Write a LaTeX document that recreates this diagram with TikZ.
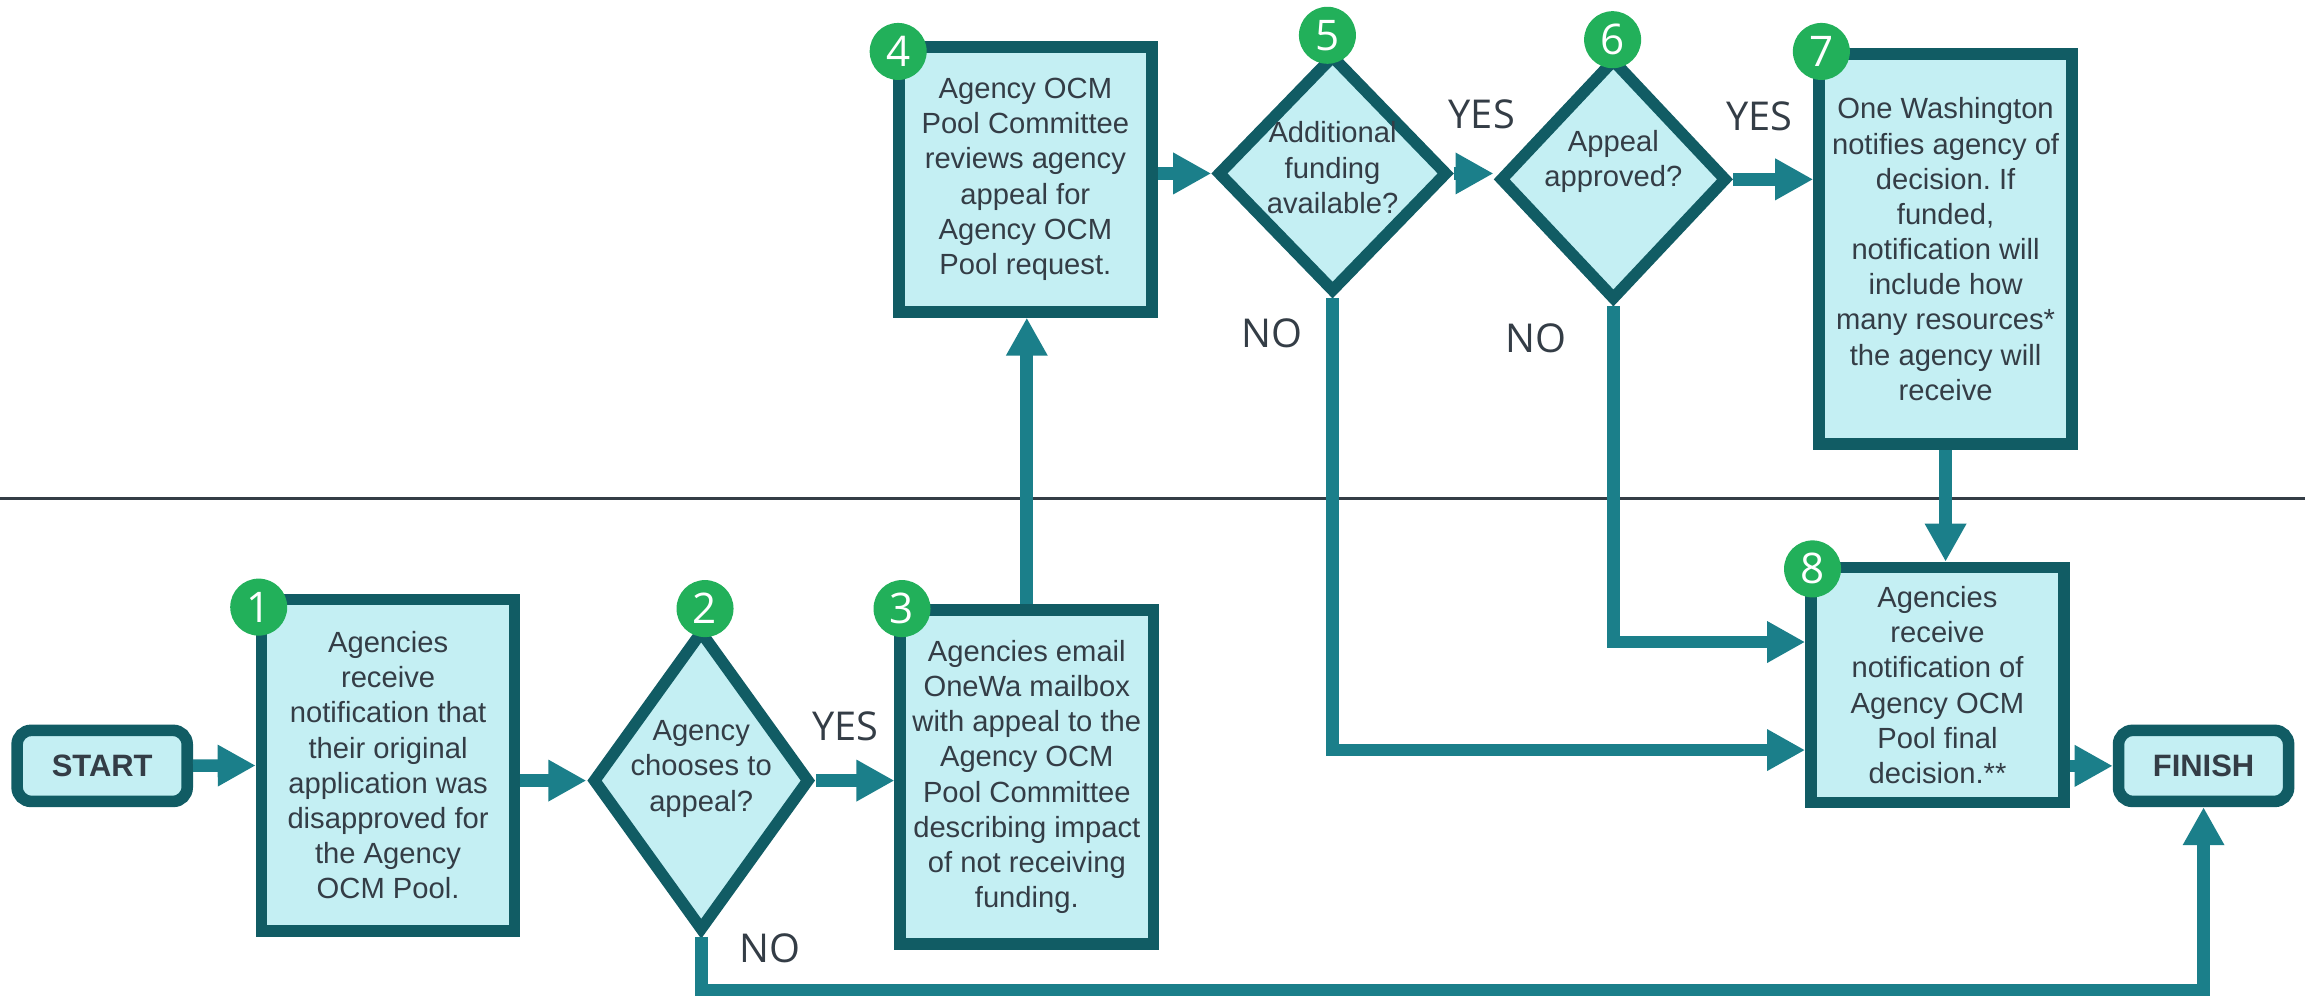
\documentclass[tikz,border=0pt]{standalone}
\usepackage{fontspec}
\setmainfont{Liberation Sans}
\newfontfamily\labelfont{Open Sans}
\usepackage{tikz}
\usetikzlibrary{arrows.meta,shapes.geometric}
\definecolor{boxfill}{HTML}{C4EFF3}
\definecolor{boxline}{HTML}{115C64}
\definecolor{flowcol}{HTML}{1B7F8A}
\definecolor{numgreen}{HTML}{22B05A}
\definecolor{txt}{HTML}{343D46}

\begin{document}
\frenchspacing
\begin{tikzpicture}[x=0.0147cm, y=-0.0147cm,
	every node/.style={align=center, text=txt, font=\fontsize{8.3}{10}\selectfont},
	stepbox/.style={draw=boxline, fill=boxfill, line width=3.3pt, inner sep=1pt, minimum width=2.53cm},
	endbox/.style={stepbox, rounded corners=4pt, font=\fontsize{8.8}{10}\selectfont\bfseries, minimum width=1.7cm, minimum height=0.71cm},
	choice/.style={diamond, draw=boxline, fill=boxfill, line width=3.3pt, inner sep=0pt},
	num/.style={circle, fill=numgreen, minimum size=0.57cm, inner sep=0pt, text=white, font=\labelfont\fontsize{12}{12}\selectfont},
	yesno/.style={font=\labelfont\fontsize{11.3}{12}\selectfont},
	flow/.style={draw=flowcol, line width=3.6pt, -{Triangle[length=0.38cm,width=0.39cm]}}]
	\useasboundingbox (0,0) rectangle (1568,680);
	\draw [line width=0.8pt, color=txt] (0,339) -- (1568,339);

	\node [endbox] (start) at (69.5,521) {START};
	\node [stepbox, minimum height=3.31cm] (b1) at (264,520.5) {Agencies\\receive\\notification that\\their original\\application was\\disapproved for\\the Agency\\OCM Pool.};
	\node [choice, minimum width=2.18cm, minimum height=3.01cm] (d2) at (477,531) {};
	\node (t2) at (477,523) {Agency\\chooses to\\appeal?};
	\node [stepbox, minimum height=3.34cm] (b3) at (698.5,528.5) {Agencies email\\OneWa mailbox\\with appeal to the\\Agency OCM\\Pool Committee\\describing impact\\of not receiving\\funding.};
	\node [stepbox, minimum height=2.65cm] (b4) at (697.5,122) {Agency OCM\\Pool Committee\\reviews agency\\appeal for\\Agency OCM\\Pool request.};
	\node [choice, minimum width=2.31cm, minimum height=2.38cm] (d5) at (906.5,118) {};
	\node (t5) at (906.5,114) {Additional\\funding\\available?};
	\node [choice, minimum width=2.28cm, minimum height=2.42cm] (d6) at (1097.5,122) {};
	\node (t6) at (1097.5,110) {Appeal\\approved?};
	\node [stepbox, minimum height=3.9cm] (b7) at (1323.5,169.5) {One Washington\\notifies agency of\\decision. If\\funded,\\notification will\\include how\\many resources*\\the agency will\\receive};
	\node [stepbox, minimum height=2.35cm] (b8) at (1318,466) {Agencies\\receive\\notification of\\Agency OCM\\Pool final\\decision.**};
	\node [endbox] (finish) at (1499,521) {FINISH};

	\foreach \n/\x/\y in {1/176/413, 2/479.6/414, 3/613.6/414, 4/611/35, 5/903/24, 6/1097/27, 7/1239/35, 8/1233/387}
		\node [num] (c\n) at (\x,\y) {\n};

	\node [yesno] (yes2) at (575,494) {YES};
	\node [yesno] (no2) at (524,645) {NO};
	\node [yesno] (yes5) at (1008,78) {YES};
	\node [yesno] (no5) at (865,227) {NO};
	\node [yesno] (yes6) at (1197,79) {YES};
	\node [yesno] (no6) at (1045,230) {NO};

	\draw [flow] (start) -- (b1);
	\draw [flow] (d2.west -| b1.east) -- (d2.west);
	\draw [flow] (d2.east) -- (d2.east -| b3.west);
	\draw [flow] (b3.north) -- (b3.north |- b4.south);
	\draw [flow] (b4.east |- d5.west) -- (d5.west);
	\draw [flow] (d5.east) -- (d5.east -| d6.west);
	\draw [flow] (d6.east) -- (d6.east -| b7.west);
	\draw [flow] (b7.south) -- (b7.south |- b8.north);
	\draw [flow] (d5.south) |- ([yshift=-0.65cm]b8.west);
	\draw [flow] (d6.south) |- ([yshift=0.43cm]b8.west);
	\draw [flow] (b8.east |- finish.west) -- (finish.west);
	\draw [flow] (d2.south) -- ++(0,36) -| (finish.south);
\end{tikzpicture}
\end{document}
